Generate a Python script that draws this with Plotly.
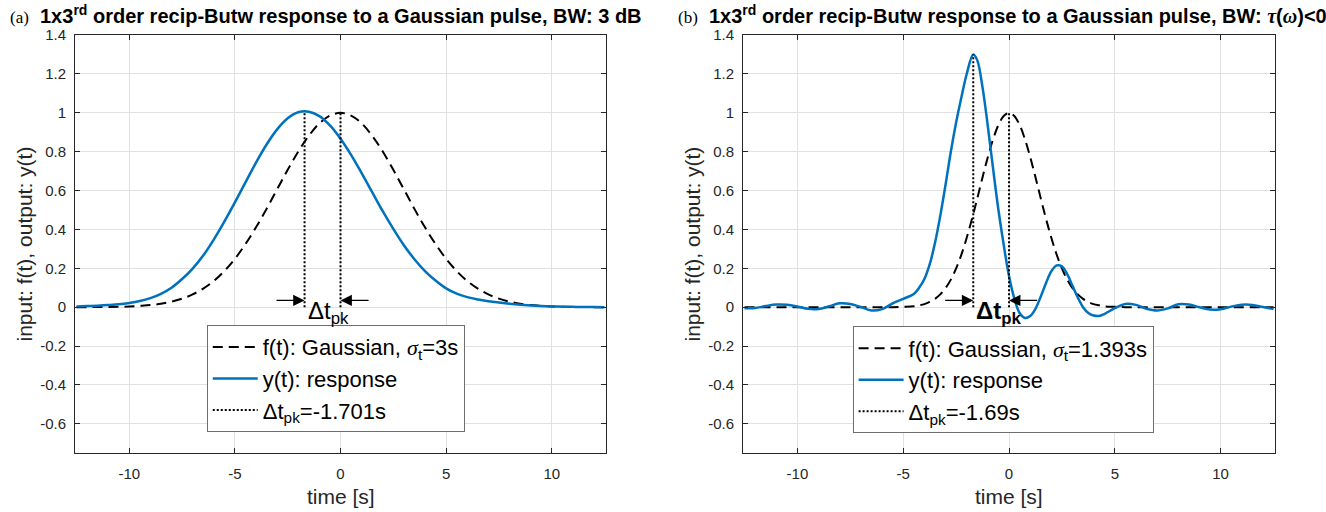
import plotly.graph_objects as go

# ---------------- panel (a): sigma_t = 3 s, BW = 3 dB ----------------
t_a = [-12.5, -12.0, -11.5, -11.0, -10.5, -10.0, -9.5, -9.0, -8.5, -8.0,
       -7.5, -7.0, -6.5, -6.0, -5.5, -5.0, -4.5, -4.0, -3.5, -3.0,
       -2.5, -2.0, -1.5, -1.0, -0.5, 0.0, 0.5, 1.0, 1.5, 2.0,
       2.5, 3.0, 3.5, 4.0, 4.5, 5.0, 5.5, 6.0, 6.5, 7.0,
       7.5, 8.0, 8.5, 9.0, 9.5, 10.0, 10.5, 11.0, 11.5, 12.0, 12.5]
f_a = [0.000, 0.000, 0.001, 0.001, 0.002, 0.004, 0.007, 0.011, 0.018, 0.029,
       0.044, 0.066, 0.096, 0.135, 0.186, 0.249, 0.325, 0.411, 0.506, 0.607,
       0.707, 0.801, 0.882, 0.946, 0.986, 1.000, 0.986, 0.946, 0.882, 0.801,
       0.707, 0.607, 0.506, 0.411, 0.325, 0.249, 0.186, 0.135, 0.096, 0.066,
       0.044, 0.029, 0.018, 0.011, 0.007, 0.004, 0.002, 0.001, 0.001, 0.000, 0.000]
y_a = [0.004, 0.006, 0.008, 0.011, 0.015, 0.022, 0.032, 0.047, 0.069, 0.100,
       0.145, 0.199, 0.266, 0.348, 0.440, 0.539, 0.642, 0.744, 0.837, 0.915,
       0.972, 1.003, 1.006, 0.983, 0.935, 0.867, 0.784, 0.690, 0.592, 0.494,
       0.403, 0.319, 0.247, 0.186, 0.137, 0.097, 0.070, 0.052, 0.040, 0.031,
       0.024, 0.018, 0.013, 0.009, 0.006, 0.004, 0.003, 0.002, 0.001, 0.001, 0.000]
dt_a = -1.701
peak_a = 1.008
sigma_a = "3s"

# ---------------- panel (b): sigma_t = 1.393 s, BW: tau(w) < 0 ----------------
t_b = [-12.5, -12.0, -11.5, -11.0, -10.5, -10.0, -9.5, -9.0, -8.5, -8.0,
       -7.5, -7.0, -6.5, -6.0, -5.5, -5.0, -4.5, -4.25, -4.0, -3.75,
       -3.5, -3.25, -3.0, -2.75, -2.5, -2.25, -2.0, -1.69, -1.5, -1.25,
       -1.0, -0.75, -0.5, -0.25, 0.0, 0.25, 0.5, 0.75, 1.0, 1.25,
       1.5, 1.75, 2.0, 2.25, 2.5, 2.75, 3.0, 3.25, 3.5, 3.75,
       4.0, 4.25, 4.5, 5.0, 5.5, 6.0, 6.5, 7.0, 7.5, 8.0,
       8.5, 9.0, 9.5, 10.0, 10.5, 11.0, 11.5, 12.0, 12.5]
f_b = [0.000, 0.000, 0.000, 0.000, 0.000, 0.000, 0.000, 0.000, 0.000, 0.000,
       0.000, 0.000, 0.000, 0.000, 0.000, 0.002, 0.005, 0.010, 0.016, 0.027,
       0.043, 0.066, 0.098, 0.142, 0.200, 0.271, 0.357, 0.479, 0.560, 0.669,
       0.773, 0.865, 0.938, 0.984, 1.000, 0.984, 0.938, 0.865, 0.773, 0.669,
       0.560, 0.454, 0.357, 0.271, 0.200, 0.142, 0.098, 0.066, 0.043, 0.027,
       0.016, 0.010, 0.005, 0.002, 0.000, 0.000, 0.000, 0.000, 0.000, 0.000,
       0.000, 0.000, 0.000, 0.000, 0.000, 0.000, 0.000, 0.000, 0.000]
y_b = [-0.005, -0.004, 0.006, 0.014, 0.013, 0.004, -0.008, -0.009, 0.005, 0.020,
       0.017, 0.001, -0.017, -0.010, 0.020, 0.043, 0.068, 0.100, 0.145, 0.220,
       0.330, 0.470, 0.630, 0.800, 0.950, 1.080, 1.200, 1.300, 1.270, 1.130,
       0.930, 0.710, 0.500, 0.320, 0.160, 0.045, -0.030, -0.055, -0.045, -0.008,
       0.055, 0.125, 0.185, 0.215, 0.210, 0.170, 0.110, 0.050, 0.000, -0.030,
       -0.043, -0.045, -0.035, -0.005, 0.017, 0.012, -0.008, -0.017, -0.006, 0.015,
       0.014, 0.000, -0.012, -0.010, 0.003, 0.013, 0.012, 0.001, -0.009]
dt_b = -1.69
peak_b = 1.30
sigma_b = "1.393s"

x_ticks = [-10, -5, 0, 5, 10]
x_ticktext = ["-10", "-5", "0", "5", "10"]
y_ticks = [-0.6, -0.4, -0.2, 0, 0.2, 0.4, 0.6, 0.8, 1, 1.2, 1.4]
y_ticktext = ["-0.6", "-0.4", "-0.2", "0", "0.2", "0.4", "0.6", "0.8", "1", "1.2", "1.4"]

BLUE = "#0072BD"
INK = "#262626"
SANS = "Liberation Sans, Arial, Helvetica, sans-serif"
SERIF = "Liberation Serif, Times New Roman, serif"
DOT = "2px,2px"


def sym(ch):
    return f"<span style='font-family:{SERIF}'><i>{ch}</i></span>"


fig = go.Figure()

panels = [
    dict(t=t_a, f=f_a, y=y_a, dt=dt_a, pk=peak_a, sig=sigma_a,
         xa="x", ya="y", leg="legend", bold=False),
    dict(t=t_b, f=f_b, y=y_b, dt=dt_b, pk=peak_b, sig=sigma_b,
         xa="x2", ya="y2", leg="legend2", bold=True),
]

for p in panels:
    fig.add_trace(go.Scatter(
        x=p["t"], y=p["f"], mode="lines", xaxis=p["xa"], yaxis=p["ya"],
        line=dict(color="black", width=2, dash="10px,6px", shape="spline"),
        name=f"f(t): Gaussian, {sym('σ')}<sub>t</sub>={p['sig']}",
        legend=p["leg"]))
    fig.add_trace(go.Scatter(
        x=p["t"], y=p["y"], mode="lines", xaxis=p["xa"], yaxis=p["ya"],
        line=dict(color=BLUE, width=2.5, shape="spline"),
        name="y(t): response", legend=p["leg"]))
    # peak-shift markers drawn as a dotted trace (also gives the legend entry)
    fig.add_trace(go.Scatter(
        x=[p["dt"], p["dt"], None, 0, 0],
        y=[0, p["pk"], None, 0, 1],
        mode="lines", xaxis=p["xa"], yaxis=p["ya"],
        line=dict(color="black", width=2, dash=DOT),
        name=f"Δt<sub>pk</sub>={p['dt']}s", legend=p["leg"]))

    # inward arrows
    arr_y = 0.035
    for tip, tail in ((p["dt"], p["dt"] - 1.4), (0, 1.4)):
        fig.add_annotation(
            x=tip, y=arr_y, ax=tail, ay=arr_y, xref=p["xa"], yref=p["ya"],
            axref=p["xa"], ayref=p["ya"], text="", showarrow=True,
            arrowhead=2, arrowsize=1.9, arrowwidth=1.2, arrowcolor="black",
            standoff=0, startstandoff=0)
    label = "Δt<sub>pk</sub>"
    if p["bold"]:
        label = "<b>Δt<sub>pk</sub></b>"
    fig.add_annotation(
        x=p["dt"], y=0.065, xref=p["xa"], yref=p["ya"], text=label,
        showarrow=False, xanchor="left", yanchor="top", xshift=1,
        font=dict(family=SANS, size=24, color="black"))

axis_common = dict(
    showgrid=True, gridcolor="#e1e1e1", gridwidth=1, zeroline=False,
    showline=True, linecolor=INK, linewidth=1, mirror="ticks",
    ticks="inside", ticklen=5, tickcolor=INK,
    tickfont=dict(family=SANS, size=15, color=INK))

xr = [-12.57, 12.57]
yr = [-0.75, 1.4005]
fig.update_layout(
    xaxis=dict(domain=[0, 0.4425], range=xr, tickvals=x_ticks, ticktext=x_ticktext,
               ticklabelstandoff=7, anchor="y", **axis_common),
    yaxis=dict(domain=[0, 1], range=yr, tickvals=y_ticks, ticktext=y_ticktext,
               ticklabelstandoff=5, anchor="x", **axis_common),
    xaxis2=dict(domain=[0.5567, 1], range=xr, tickvals=x_ticks, ticktext=x_ticktext,
                ticklabelstandoff=7, anchor="y2", **axis_common),
    yaxis2=dict(domain=[0, 1], range=yr, tickvals=y_ticks, ticktext=y_ticktext,
                ticklabelstandoff=5, anchor="x2", **axis_common),
)

leg_common = dict(
    xanchor="left", yanchor="top", bgcolor="white", bordercolor="#6e6e6e",
    borderwidth=1, font=dict(family=SANS, size=22, color="black"),
    itemwidth=45, tracegroupgap=0)
fig.update_layout(
    legend=dict(x=0.1098, y=0.306, **leg_common),
    legend2=dict(x=0.648, y=0.303, **leg_common),
)

# titles, panel letters and axis labels
titles = [
    ("x", "(a)", "1x3<sup>rd</sup> order recip-Butw response to a Gaussian pulse, BW: 3 dB"),
    ("x2", "(b)", "1x3<sup>rd</sup> order recip-Butw response to a Gaussian pulse, BW: "
                  + sym("τ") + "(" + sym("ω") + ")&lt;0"),
]
for xa, letter, title in titles:
    fig.add_annotation(
        x=0, y=1, xref=f"{xa} domain", yref="paper", yanchor="bottom",
        xanchor="left", xshift=-67, yshift=6,
        text=f"<span style='font-family:{SERIF};font-size:17px'>{letter}</span>"
             f"  <b>{title}</b>",
        showarrow=False, font=dict(family=SANS, size=20, color="black"))
    fig.add_annotation(
        x=0.5, y=0, xref=f"{xa} domain", yref="paper", yanchor="top",
        xanchor="center", yshift=-30, text="time [s]", showarrow=False,
        font=dict(family=SANS, size=21, color=INK))
    fig.add_annotation(
        x=0, y=0.5, xref=f"{xa} domain", yref="paper", yanchor="middle",
        xanchor="right", xshift=-38, text="input: f(t), output: y(t)",
        textangle=-90, showarrow=False,
        font=dict(family=SANS, size=21, color=INK))

fig.update_layout(
    width=1326, height=512,
    margin=dict(l=75, r=51, t=35, b=59),
    paper_bgcolor="white", plot_bgcolor="white",
)

fig.write_html("out.html", config={"displayModeBar": False})
